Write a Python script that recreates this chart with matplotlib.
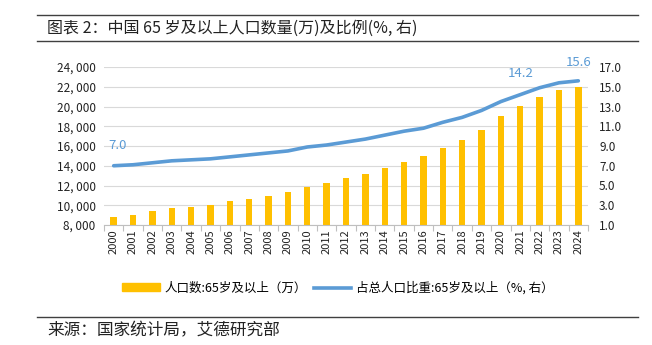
import numpy as np
import matplotlib.pyplot as plt
from matplotlib.lines import Line2D
from matplotlib.patches import Patch

plt.rcParams['font.family'] = ['Noto Sans CJK SC', 'DejaVu Sans']

years = [str(y) for y in range(2000, 2025)]
pop_65 = [8821, 9062, 9377, 9692, 9857, 10055, 10419, 10636, 10956, 11307,
          11894, 12288, 12714, 13161, 13755, 14386, 15003, 15831, 16658, 17603,
          19064, 20056, 20978, 21676, 22023]
ratio_65 = [7.0, 7.1, 7.3, 7.5, 7.6, 7.7, 7.9, 8.1, 8.3, 8.5,
            8.9, 9.1, 9.4, 9.7, 10.1, 10.5, 10.8, 11.4, 11.9, 12.6,
            13.5, 14.2, 14.9, 15.4, 15.6]
labeled = [0, 21, 24]

BAR = '#FFC000'
LINE = '#5B9BD5'
W, H = 652, 345

fig = plt.figure(figsize=(W / 100, H / 100), dpi=100)

# header / footer rules
for y in (15, 41, 317):
    fig.add_artist(Line2D([37 / W, 638 / W], [1 - y / H, 1 - y / H],
                          color='#404040', lw=1.0))
fig.text(47 / W, 1 - 28 / H, '图表 2：中国 65 岁及以上人口数量(万)及比例(%, 右)',
         fontsize=11.5, va='center', ha='left', color='#222222')
fig.text(47 / W, 1 - 331 / H, '来源：国家统计局，艾德研究部',
         fontsize=12, va='center', ha='left', color='#222222')

ax = fig.add_axes([104 / W, 1 - 225 / H, (588 - 104) / W, (225 - 67) / H])
x = np.arange(len(years))
ax.bar(x, pop_65, width=0.33, color=BAR, zorder=2)
ax.set_xlim(-0.5, len(years) - 0.5)
ax.set_ylim(8000, 24000)
left_ticks = list(range(8000, 24001, 2000))
ax.set_yticks(left_ticks)
ax.set_yticklabels([f'{v:,}'.replace(',', ', ') for v in left_ticks])
ax.grid(axis='y', color='#D9D9D9', lw=0.8, zorder=0)
ax.set_xticks(x)
ax.set_xticklabels(years, rotation=90)
ax.set_xticks(np.arange(-0.5, len(years)), minor=True)
ax.tick_params(axis='x', which='major', length=0, pad=3, labelsize=8, colors='#222222')
ax.tick_params(axis='x', which='minor', length=4, color='#BFBFBF', width=0.8)
ax.tick_params(axis='y', length=0, pad=6, labelsize=8.5, colors='#222222')
for s in ('top', 'left', 'right'):
    ax.spines[s].set_visible(False)
ax.spines['bottom'].set_color('#BFBFBF')

ax2 = ax.twinx()
ax2.plot(x, ratio_65, color=LINE, lw=2.6, solid_capstyle='round', zorder=3)
ax2.set_ylim(1, 17)
right_ticks = np.arange(1, 17.1, 2)
ax2.set_yticks(right_ticks)
ax2.set_yticklabels([f'{v:.1f}' for v in right_ticks])
ax2.tick_params(axis='y', length=0, pad=8, labelsize=8.5, colors='#222222')
for s in ax2.spines.values():
    s.set_visible(False)

# value labels above selected points (pixel offsets)
offsets = {0: (4, 20), 21: (0, 21), 24: (0, 18)}
for i in labeled:
    ax2.annotate(f'{ratio_65[i]:.1f}', (x[i], ratio_65[i]), xytext=offsets[i],
                 textcoords='offset pixels', ha='center', va='center',
                 color=LINE, fontsize=9.5)

handles = [Patch(color=BAR), Line2D([], [], color=LINE, lw=2.6)]
labels = ['人口数:65岁及以上（万）', '占总人口比重:65岁及以上（%, 右）']
fig.legend(handles, labels, loc='center', bbox_to_anchor=(338 / W, 1 - 288 / H),
           ncol=2, frameon=False, fontsize=9, handlelength=3.0,
           handleheight=0.6, columnspacing=0.5, handletextpad=0.4)

fig.savefig('out.png', dpi=100)
